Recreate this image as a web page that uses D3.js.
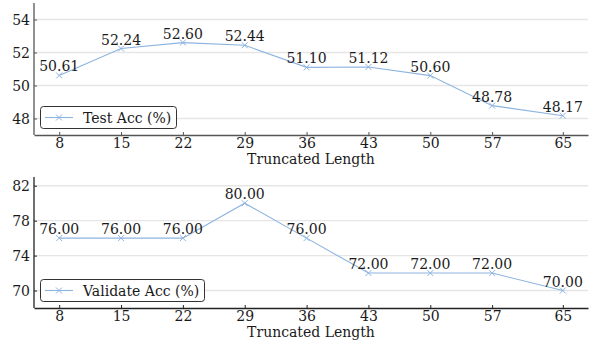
<!DOCTYPE html>
<html lang="en">
<head>
  <meta charset="UTF-8">
  <title>Truncated Length</title>
  <script src="https://d3js.org/d3.v7.min.js"></script>
  <style>
    body { margin: 0; background: #fff; }
    svg text { font-family: "DejaVu Serif", serif; font-size: 14px; fill: #1a1a1a; }
  </style>
</head>
<body>
  <div id="chart"></div>
  <script>
    // data
    const lengths = [8, 15, 22, 29, 36, 43, 50, 57, 65];
    const testAcc = [50.61, 52.24, 52.60, 52.44, 51.10, 51.12, 50.60, 48.78, 48.17];
    const validAcc = [76.00, 76.00, 76.00, 80.00, 76.00, 72.00, 72.00, 72.00, 70.00];
    const testTicks = [48, 50, 52, 54];
    const validTicks = [70, 74, 78, 82];

    const W = 596, H = 347;
    const lineColor = "#8db4df";

    const svg = d3.select("#chart").append("svg")
      .attr("width", W).attr("height", H);

    // one panel: top/bottom pixel rows of the axes box
    function panel(values, domain, ticks, top, bottom, legendLabel, legendW, spine) {
      const x = d3.scaleLinear().domain([5.15, 67.85]).range([34, 588]);
      const y = d3.scaleLinear().domain(domain).range([bottom, top]);
      const g = svg.append("g");

      // grid
      g.selectAll(".grid").data(ticks).enter().append("line")
        .attr("x1", 34).attr("x2", 588)
        .attr("y1", d => y(d)).attr("y2", d => y(d))
        .attr("stroke", "#e6e6e6").attr("stroke-width", 1.4);

      // axes
      const xa = g.append("g").attr("transform", `translate(0,${bottom})`)
        .call(d3.axisBottom(x).tickValues(lengths).tickSizeInner(-3).tickSizeOuter(0).tickPadding(3));
      const ya = g.append("g").attr("transform", "translate(34,0)")
        .call(d3.axisLeft(y).tickValues(ticks).tickSizeInner(-3).tickSizeOuter(0).tickPadding(4));
      [xa, ya].forEach(a => {
        a.select(".domain").attr("stroke", spine).attr("stroke-width", 1.3);
        a.selectAll(".tick line").attr("stroke", spine);
        a.selectAll("text").attr("font-family", null).attr("font-size", null).attr("fill", "#1a1a1a");
      });
      ya.select(".domain").attr("d", `M0,${top}V${bottom}`);
      ya.selectAll(".tick text").attr("dy", "0.36em");

      g.append("text").attr("x", 311).attr("y", bottom + 29)
        .attr("text-anchor", "middle").text("Truncated Length");

      // line + markers
      const pts = lengths.map((l, i) => [l, values[i]]);
      g.append("path").datum(pts)
        .attr("fill", "none").attr("stroke", lineColor).attr("stroke-width", 1.1)
        .attr("d", d3.line().x(d => x(d[0])).y(d => y(d[1])));
      const s = 3;
      g.selectAll(".mk").data(pts).enter().append("path")
        .attr("d", d => `M${x(d[0]) - s},${y(d[1]) - s}L${x(d[0]) + s},${y(d[1]) + s}M${x(d[0]) - s},${y(d[1]) + s}L${x(d[0]) + s},${y(d[1]) - s}`)
        .attr("stroke", lineColor).attr("stroke-width", 1);

      // value labels
      g.selectAll(".lab").data(pts).enter().append("text")
        .attr("x", d => x(d[0])).attr("y", d => y(d[1]) - 4)
        .attr("text-anchor", "middle")
        .text(d => d[1].toFixed(2));

      // legend
      const ly = bottom - 29;
      const lg = g.append("g");
      lg.append("rect").attr("x", 40.5).attr("y", ly + 0.5).attr("width", legendW).attr("height", 22)
        .attr("rx", 3).attr("fill", "#fff").attr("fill-opacity", 0.85)
        .attr("stroke", "#333").attr("stroke-width", 1);
      lg.append("line").attr("x1", 45).attr("x2", 73).attr("y1", ly + 11.5).attr("y2", ly + 11.5)
        .attr("stroke", lineColor).attr("stroke-width", 1.1);
      lg.append("path")
        .attr("d", `M${59 - s},${ly + 11.5 - s}L${59 + s},${ly + 11.5 + s}M${59 - s},${ly + 11.5 + s}L${59 + s},${ly + 11.5 - s}`)
        .attr("stroke", lineColor);
      lg.append("text").attr("x", 83).attr("y", ly + 16.5).text(legendLabel);
    }

    panel(testAcc, [47, 55], testTicks, 3, 135, "Test Acc (%)", 136, "#555");
    panel(validAcc, [68, 83], validTicks, 177, 308, "Validate Acc (%)", 164, "#222");
  </script>
</body>
</html>
